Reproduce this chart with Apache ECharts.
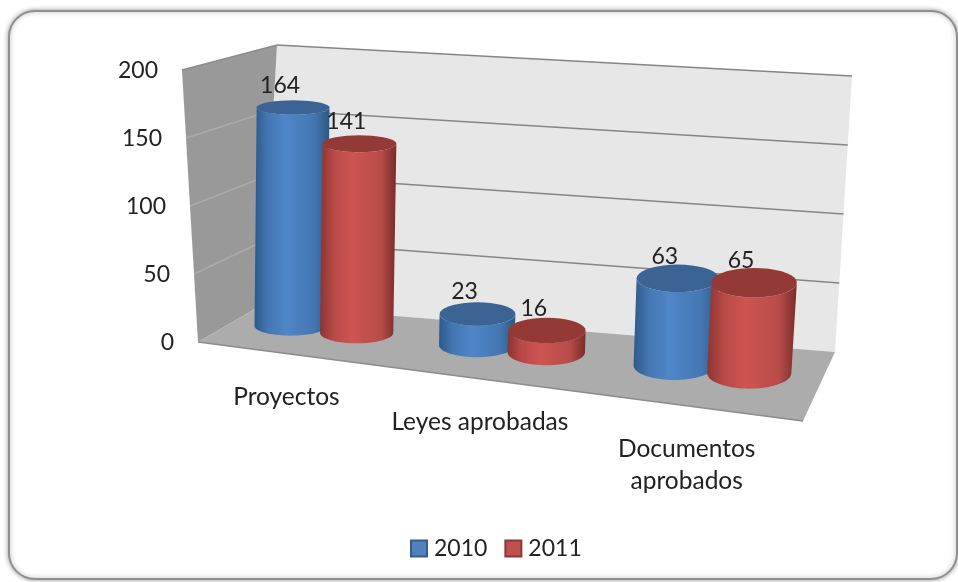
<!DOCTYPE html>
<html>
<head>
<meta charset="utf-8">
<style>
  html, body { margin: 0; padding: 0; background: #fff; }
  #chart { width: 958px; height: 582px; }
</style>
<script src="https://cdn.jsdelivr.net/npm/echarts@6/dist/echarts.min.js"></script>
</head>
<body>
<div id="chart"></div>
<script>
  const categories = ['Proyectos', 'Leyes aprobadas', 'Documentos\naprobados']
  const values2010 = [164, 23, 63]
  const values2011 = [141, 16, 65]
  const tickValues = [0, 50, 100, 150, 200]

  const FONT = 'Lato, "Noto Sans", sans-serif'
  const TEXT = '#222'
  const MAX = 200

  // esquinas de la caja 3D: suelo y plano superior
  const floorQuad = [[198, 342], [803, 421], [835, 352], [262, 305]]
  const topQuad = [[182, 70], [825, 136], [852, 76], [277, 45]]
  const grid = { left: 198, top: 70, width: 605, height: 272 }
  const PERSPECTIVE = 0.2

  // homografia del cuadrado unidad al cuadrilatero, suavizada con la bilineal
  function plane(q) {
    const [[x0, y0], [x1, y1], [x2, y2], [x3, y3]] = q
    const dx1 = x1 - x2, dx2 = x3 - x2, dx3 = x0 - x1 + x2 - x3
    const dy1 = y1 - y2, dy2 = y3 - y2, dy3 = y0 - y1 + y2 - y3
    const den = dx1 * dy2 - dx2 * dy1
    const g = (dx3 * dy2 - dx2 * dy3) / den
    const h = (dx1 * dy3 - dx3 * dy1) / den
    const a = x1 - x0 + g * x1, b = x3 - x0 + h * x3
    const d = y1 - y0 + g * y1, e = y3 - y0 + h * y3
    return (u, v) => {
      const w = g * u + h * v + 1
      const lin = (p0, p1, p2, p3) => p0 * (1 - u) * (1 - v) + p1 * u * (1 - v) + p2 * u * v + p3 * (1 - u) * v
      const hx = (a * u + b * v + x0) / w
      const hy = (d * u + e * v + y0) / w
      return [
        lin(x0, x1, x2, x3) * (1 - PERSPECTIVE) + hx * PERSPECTIVE,
        lin(y0, y1, y2, y3) * (1 - PERSPECTIVE) + hy * PERSPECTIVE
      ]
    }
  }
  const onFloor = plane(floorQuad)
  const onTop = plane(topQuad)

  // u: ancho, h: altura (0-1), z: profundidad (0 delante, 1 fondo)
  function project(u, h, z) {
    const a = onFloor(u, z)
    const b = onTop(u, z)
    return [a[0] + (b[0] - a[0]) * h, a[1] + (b[1] - a[1]) * h]
  }

  // pasa un valor de los ejes de ECharts a (u, h)
  function toBox(api, cat, value) {
    const p = api.coord([cat, value])
    return [(p[0] - grid.left) / grid.width, (grid.top + grid.height - p[1]) / grid.height]
  }

  const BAR_Z = 0.58
  const BAR_RU = 0.066
  const BAR_RZ = 0.24
  const BAR_OFFSET = 0.06
  const BAR_SHIFT = -0.005

  // elipse de la seccion del cilindro a la altura h
  function section(u, h) {
    const c = project(u, h, BAR_Z)
    const rx = (project(u + BAR_RU, h, BAR_Z)[0] - project(u - BAR_RU, h, BAR_Z)[0]) / 2
    const ry = (project(u, h, BAR_Z - BAR_RZ)[1] - project(u, h, BAR_Z + BAR_RZ)[1]) / 2
    return { c, rx, ry }
  }

  function arc(e, from, to) {
    const pts = []
    for (let i = 0; i <= 36; i++) {
      const t = from + (to - from) * i / 36
      pts.push([e.c[0] + e.rx * Math.cos(t), e.c[1] + e.ry * Math.sin(t)])
    }
    return pts
  }

  function cylinder(sign, body, topColor) {
    return function (params, api) {
      const cat = api.value(0)
      const val = api.value(1)
      const [u0, h] = toBox(api, cat, val)
      const u = u0 + BAR_SHIFT + sign * BAR_OFFSET
      const low = section(u, 0)
      const high = section(u, h)
      const side = arc(low, Math.PI, 0).concat(arc(high, 0, Math.PI))
      return {
        type: 'group',
        children: [
          { type: 'polygon', shape: { points: side }, style: { fill: new echarts.graphic.LinearGradient(0, 0, 1, 0, body) } },
          { type: 'polygon', shape: { points: arc(high, 0, 2 * Math.PI) }, style: { fill: topColor } },
          {
            type: 'text',
            z2: 50,
            style: {
              x: high.c[0] - 13, y: high.c[1] - 22, text: String(val), fill: TEXT,
              font: '23px ' + FONT, align: 'center', verticalAlign: 'middle'
            }
          }
        ]
      }
    }
  }

  const blueBody = [
    { offset: 0, color: '#2e5a8c' }, { offset: 0.18, color: '#4476b2' },
    { offset: 0.42, color: '#4f86c8' }, { offset: 0.8, color: '#4476b2' }, { offset: 1, color: '#2d5885' }
  ]
  const redBody = [
    { offset: 0, color: '#8c3432' }, { offset: 0.18, color: '#b84a47' },
    { offset: 0.42, color: '#cd5451' }, { offset: 0.8, color: '#b84c49' }, { offset: 1, color: '#772c2a' }
  ]

  function renderFrame(params, api) {
    const children = []
    const poly = (pts, fill) => children.push({ type: 'polygon', shape: { points: pts }, style: { fill: fill } })
    const line = (a, b, color) => children.push({
      type: 'line',
      shape: { x1: a[0], y1: a[1], x2: b[0], y2: b[1] },
      style: { stroke: color, lineWidth: 1.5 }
    })
    poly([project(0, 0, 1), project(1, 0, 1), project(1, 1, 1), project(0, 1, 1)], '#e7e7e7')
    poly([project(0, 0, 0), project(0, 0, 1), project(0, 1, 1), project(0, 1, 0)], '#999999')
    tickValues.forEach((t) => {
      const [, h] = toBox(api, 0, t)
      if (h > 0) {
        line(project(0, h, 1), project(1, h, 1), '#858585')
        line(project(0, h, 0), project(0, h, 1), h === 1 ? '#8c8c8c' : '#ababab')
      }
      const p = project(0, h, 0)
      children.push({
        type: 'text',
        style: {
          x: p[0] - 24, y: p[1] + 1, text: String(t), fill: TEXT,
          font: '23px ' + FONT, align: 'right', verticalAlign: 'middle'
        }
      })
    })
    poly([project(0, 0, 0), project(1, 0, 0), project(1, 0, 1), project(0, 0, 1)], '#acacac')
    line(project(0, 0, 0), project(1, 0, 0), '#8c8c8c')
    categories.forEach((name, i) => {
      const [u] = toBox(api, i, 0)
      const p = project(u, 0, 0)
      children.push({
        type: 'text',
        style: {
          x: p[0] - 5, y: p[1] + 26.5, text: name, fill: TEXT,
          font: '24.5px ' + FONT, align: 'center', verticalAlign: 'top', lineHeight: 32
        }
      })
    })
    return { type: 'group', children: children }
  }

  const chart = echarts.init(document.getElementById('chart'))
  chart.setOption({
    animation: false,
    backgroundColor: '#fff',
    graphic: [{
      type: 'rect',
      silent: true,
      z: -1,
      shape: { x: 9, y: 11, width: 948, height: 568, r: 26 },
      style: { fill: '#fff', stroke: '#8f8f8f', lineWidth: 2, shadowBlur: 5, shadowColor: 'rgba(0,0,0,0.35)' }
    }],
    grid: { left: grid.left, top: grid.top, width: grid.width, height: grid.height },
    xAxis: { type: 'category', data: categories, show: false },
    yAxis: { type: 'value', min: 0, max: MAX, interval: 50, show: false },
    legend: {
      left: 405,
      top: 532,
      itemWidth: 16,
      itemHeight: 16,
      itemGap: 17,
      textStyle: { fontFamily: FONT, fontSize: 23, color: TEXT, padding: [0, 0, 0, 2] },
      data: [
        { name: '2010', icon: 'rect', itemStyle: { color: '#4f81bd', borderColor: '#385d8a', borderWidth: 2 } },
        { name: '2011', icon: 'rect', itemStyle: { color: '#c0504d', borderColor: '#8c3836', borderWidth: 2 } }
      ]
    },
    series: [
      { type: 'custom', name: 'frame', silent: true, z: 1, clip: false, data: [[0, 0]], renderItem: renderFrame },
      {
        type: 'custom', name: '2010', z: 2, clip: false, itemStyle: { color: '#4f81bd' },
        encode: { x: 0, y: 1 },
        data: values2010.map((v, i) => [i, v]),
        renderItem: cylinder(-1, blueBody, '#3b6494')
      },
      {
        type: 'custom', name: '2011', z: 3, clip: false, itemStyle: { color: '#c0504d' },
        encode: { x: 0, y: 1 },
        data: values2011.map((v, i) => [i, v]),
        renderItem: cylinder(1, redBody, '#953936')
      }
    ]
  })
</script>
</body>
</html>
